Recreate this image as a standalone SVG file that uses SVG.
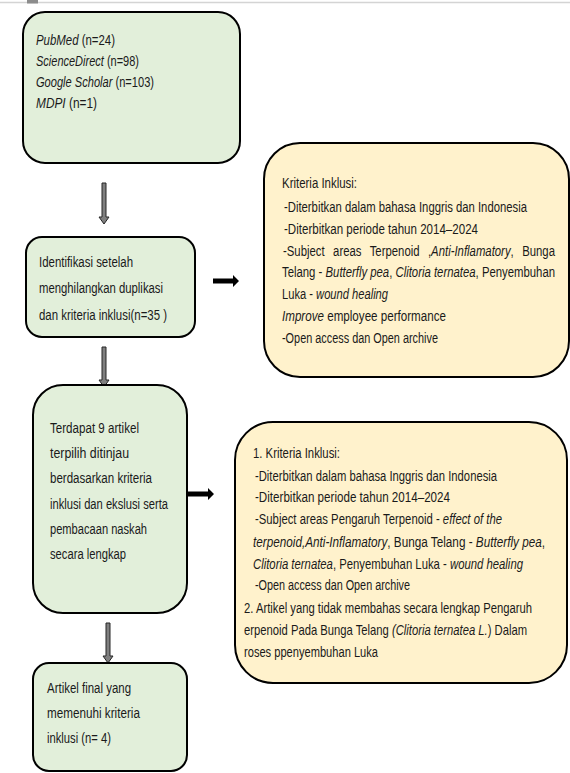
<svg xmlns="http://www.w3.org/2000/svg" width="570" height="773" viewBox="0 0 570 773">
<style>
text{font-family:"Liberation Sans",Arial,sans-serif;font-size:15px;fill:#1a1a1a}
.i{font-style:italic}
.g{fill:#e2efda;stroke:#000;stroke-width:2}
.y{fill:#fff2cc;stroke:#000;stroke-width:2}
.da{fill:#7f7f7f;stroke:#262626;stroke-width:1}
.ra{fill:#000}
</style>
<rect x="0" y="0" width="570" height="773" fill="#fff"/>
<line x1="0" y1="2.5" x2="570" y2="2.5" stroke="#d4d4d4" stroke-width="1.5"/>
<rect x="27" y="0" width="11" height="3.5" fill="#8c8c8c"/>

<g id="connectors">
<polygon class="da" points="102,183 106,183 106,217 109,217 104,224 99,217 102,217"/>
<polygon class="da" points="102,347 106,347 106,380 109,380 104,387 99,380 102,380"/>
<polygon class="da" points="106,623 110,623 110,656 113,656 108,663 103,656 106,656"/>
<polygon class="ra" points="213,278.5 233,278.5 233,275 239,281 233,287 233,283.5 213,283.5"/>
<polygon class="ra" points="187,491.5 208,491.5 208,488 214,494 208,500 208,496.5 187,496.5"/>
</g>

<g id="n1">
<rect class="g" x="23" y="12" width="217" height="151" rx="22"/>
<text transform="translate(36,45) scale(.761,1)" textLength="103.8" lengthAdjust="spacingAndGlyphs"><tspan class="i">PubMed</tspan> (n=24)</text>
<text transform="translate(36,66) scale(.733,1)" textLength="140.5" lengthAdjust="spacingAndGlyphs"><tspan class="i">ScienceDirect</tspan> (n=98)</text>
<text transform="translate(36,87) scale(.739,1)" textLength="159.7" lengthAdjust="spacingAndGlyphs"><tspan class="i">Google Scholar</tspan> (n=103)</text>
<text transform="translate(36,108) scale(.791,1)" textLength="77.1" lengthAdjust="spacingAndGlyphs"><tspan class="i">MDPI</tspan>  (n=1)</text>
</g>

<g id="n2">
<rect class="g" x="26" y="237" width="169" height="100" rx="16"/>
<text transform="translate(39,267) scale(.78,1)" textLength="120.5" lengthAdjust="spacingAndGlyphs">Identifikasi setelah</text>
<text transform="translate(39,293) scale(.78,1)" textLength="159" lengthAdjust="spacingAndGlyphs">menghilangkan duplikasi</text>
<text transform="translate(39,320) scale(.78,1)" textLength="164.1" lengthAdjust="spacingAndGlyphs">dan kriteria inklusi(n=35 )</text>
</g>

<g id="n3">
<rect class="y" x="264" y="143" width="305" height="234" rx="36"/>
<text transform="translate(282,188) scale(.78,1)" textLength="96.2" lengthAdjust="spacingAndGlyphs">Kriteria Inklusi:</text>
<text transform="translate(284,212) scale(.78,1)" textLength="311.5" lengthAdjust="spacingAndGlyphs">-Diterbitkan dalam bahasa Inggris dan Indonesia</text>
<text transform="translate(284,234) scale(.78,1)" textLength="248.7" lengthAdjust="spacingAndGlyphs">-Diterbitkan periode tahun 2014–2024</text>
<text transform="translate(283,256) scale(.78,1)" textLength="348.7" lengthAdjust="spacingAndGlyphs" word-spacing="7">-Subject areas Terpenoid ,<tspan class="i">Anti-Inflamatory</tspan>, Bunga</text>
<text transform="translate(282,277) scale(.753,1)" textLength="362.6" lengthAdjust="spacingAndGlyphs">Telang - <tspan class="i">Butterfly pea</tspan>, <tspan class="i">Clitoria ternatea</tspan>, Penyembuhan</text>
<text transform="translate(282,299) scale(.743,1)" textLength="142.7" lengthAdjust="spacingAndGlyphs">Luka - <tspan class="i">wound healing</tspan></text>
<text transform="translate(282,321) scale(.775,1)" textLength="211.6" lengthAdjust="spacingAndGlyphs"><tspan class="i">Improve</tspan>  employee performance</text>
<text transform="translate(282,343) scale(.78,1)" textLength="200" lengthAdjust="spacingAndGlyphs">-Open access dan Open archive</text>
</g>

<g id="n4">
<rect class="g" x="33" y="385" width="154" height="228" rx="30"/>
<text transform="translate(50,433) scale(.78,1)" textLength="114.1" lengthAdjust="spacingAndGlyphs">Terdapat 9 artikel</text>
<text transform="translate(50,458) scale(.78,1)" textLength="101.3" lengthAdjust="spacingAndGlyphs">terpilih ditinjau</text>
<text transform="translate(50,483) scale(.78,1)" textLength="130.8" lengthAdjust="spacingAndGlyphs">berdasarkan kriteria</text>
<text transform="translate(50,509) scale(.78,1)" textLength="151.3" lengthAdjust="spacingAndGlyphs">inklusi dan ekslusi serta</text>
<text transform="translate(50,534) scale(.78,1)" textLength="124.4" lengthAdjust="spacingAndGlyphs">pembacaan naskah</text>
<text transform="translate(50,559) scale(.78,1)" textLength="97.4" lengthAdjust="spacingAndGlyphs">secara lengkap</text>
</g>

<g id="n5">
<rect class="y" x="235" y="422" width="332" height="261" rx="38"/>
<text transform="translate(253,458) scale(.78,1)" textLength="111.5" lengthAdjust="spacingAndGlyphs">1. Kriteria Inklusi:</text>
<text transform="translate(255,481) scale(.78,1)" textLength="310.3" lengthAdjust="spacingAndGlyphs">-Diterbitkan dalam bahasa Inggris dan Indonesia</text>
<text transform="translate(255,502) scale(.78,1)" textLength="250" lengthAdjust="spacingAndGlyphs">-Diterbitkan periode tahun 2014–2024</text>
<text transform="translate(255,524) scale(.75,1)" textLength="329.3" lengthAdjust="spacingAndGlyphs">-Subject areas Pengaruh Terpenoid - <tspan class="i">effect of the</tspan></text>
<text transform="translate(253,547) scale(.778,1)" textLength="375.3" lengthAdjust="spacingAndGlyphs"><tspan class="i">terpenoid,Anti-Inflamatory</tspan>, Bunga Telang - <tspan class="i">Butterfly pea</tspan>,</text>
<text transform="translate(253,569) scale(.755,1)" textLength="357.6" lengthAdjust="spacingAndGlyphs"><tspan class="i">Clitoria ternatea</tspan>, Penyembuhan Luka - <tspan class="i">wound healing</tspan></text>
<text transform="translate(255,590) scale(.78,1)" textLength="198.7" lengthAdjust="spacingAndGlyphs">-Open access dan Open archive</text>
<text transform="translate(244,613) scale(.78,1)" textLength="369.2" lengthAdjust="spacingAndGlyphs">2. Artikel yang tidak membahas secara lengkap Pengaruh</text>
<text transform="translate(244,635) scale(.746,1)" textLength="379.4" lengthAdjust="spacingAndGlyphs">erpenoid Pada Bunga Telang <tspan class="i">(Clitoria ternatea L.</tspan>) Dalam</text>
<text transform="translate(244,657) scale(.78,1)" textLength="171.8" lengthAdjust="spacingAndGlyphs">roses ppenyembuhan Luka</text>
</g>

<g id="n6">
<rect class="g" x="33" y="663" width="154" height="108" rx="16"/>
<text transform="translate(47,693) scale(.78,1)" textLength="107.7" lengthAdjust="spacingAndGlyphs">Artikel final yang</text>
<text transform="translate(47,718) scale(.78,1)" textLength="119.2" lengthAdjust="spacingAndGlyphs">memenuhi kriteria</text>
<text transform="translate(47,743) scale(.78,1)" textLength="82.1" lengthAdjust="spacingAndGlyphs">inklusi (n= 4)</text>
</g>
</svg>
